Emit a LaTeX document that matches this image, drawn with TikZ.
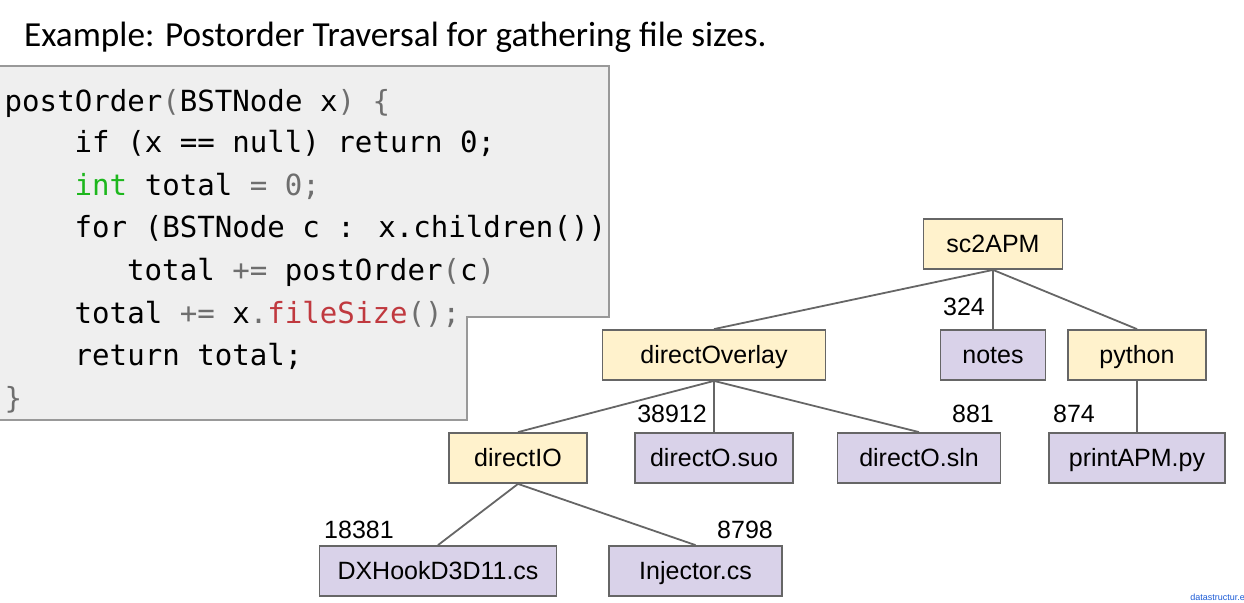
\documentclass[tikz,border=0pt]{standalone}
\usepackage{fontspec}
\setmainfont{Liberation Sans}
\newfontfamily\titlefont{Carlito}
\newfontfamily\codefont{DejaVu Sans Mono}
\definecolor{codefill}{HTML}{EFEFEF}
\definecolor{codeborder}{HTML}{999999}
\definecolor{codegray}{HTML}{6E6E6E}
\definecolor{codegreen}{HTML}{1DB71D}
\definecolor{codered}{HTML}{C0393F}
\definecolor{diryellow}{HTML}{FFF2CC}
\definecolor{filepurple}{HTML}{D9D2E9}
\definecolor{nodeborder}{HTML}{666666}
\definecolor{edgegray}{HTML}{666666}
\definecolor{linkblue}{HTML}{1A5AD6}
\newcommand{\cgr}[1]{\textcolor{codegray}{#1}}
\newcommand{\cgn}[1]{\textcolor{codegreen}{#1}}
\newcommand{\crd}[1]{\textcolor{codered}{#1}}
\tikzset{
  codebox/.style={fill=codefill, draw=codeborder, line width=1.2pt},
  codeline/.style={anchor=base west, inner sep=0pt, font=\codefont\fontsize{29.1}{34}\selectfont},
  tnode/.style={draw=nodeborder, line width=1.8pt, minimum height=50pt, inner sep=0pt, text height=19pt, text depth=2pt, font=\fontsize{25}{30}\selectfont},
  dirbox/.style={tnode, fill=diryellow},
  filebox/.style={tnode, fill=filepurple},
  sizelbl/.style={inner sep=0pt, font=\fontsize{25}{30}\selectfont},
  edge/.style={draw=edgegray, line width=1.8pt}
}
\begin{document}
\begin{tikzpicture}[x=1pt,y=-1pt]
\useasboundingbox (0,0) rectangle (1244,602);
% title
\node[anchor=base west, inner sep=0pt, font=\titlefont\fontsize{35.2}{42}\selectfont] (title) at (24,47) {Example: Postorder Traversal for gathering file sizes.};
% code box
\draw[codebox] (-3,66) -- (609,66) -- (609,317) -- (467,317) -- (467,420) -- (-3,420) -- cycle;
\node[codeline] (c1) at (4.5,111) {postOrder\cgr{(}BSTNode x\cgr{)} \cgr{\{}};
\node[codeline] (c2) at (74.5,152) {if (x == null) return 0;};
\node[codeline] (c3) at (74.5,195) {\cgn{int} total \cgr{=} \cgr{0;}};
\node[codeline] (c4) at (74.5,237) {for (BSTNode c : x.children())};
\node[codeline] (c5) at (127,280) {total \cgr{+=} postOrder\cgr{(}c\cgr{)}};
\node[codeline] (c6) at (74.5,323) {total \cgr{+=} x\cgr{.}\crd{fileSize}\cgr{();}};
\node[codeline] (c7) at (74.5,365) {return total;};
\node[codeline] (c8) at (4.5,408) {\cgr{\}}};
% tree nodes
\node[dirbox, minimum width=139pt] (sc2) at (993,244) {sc2APM};
\node[dirbox, minimum width=223pt] (dov) at (714,355) {directOverlay};
\node[filebox, minimum width=105pt] (notes) at (993,355) {notes};
\node[dirbox, minimum width=138pt] (py) at (1137,355) {python};
\node[dirbox, minimum width=138pt] (dio) at (518,458) {directIO};
\node[filebox, minimum width=158pt] (suo) at (714,458) {directO.suo};
\node[filebox, minimum width=163pt] (sln) at (919,458) {directO.sln};
\node[filebox, minimum width=176pt] (pam) at (1137,458) {printAPM.py};
\node[filebox, minimum width=237pt] (dx) at (438,571) {DXHookD3D11.cs};
\node[filebox, minimum width=173pt] (inj) at (695.5,571) {Injector.cs};
% edges
\draw[edge] (sc2.south) -- (dov.north);
\draw[edge] (sc2.south) -- (notes.north);
\draw[edge] (sc2.south) -- (py.north);
\draw[edge] (dov.south) -- (dio.north);
\draw[edge] (dov.south) -- (suo.north);
\draw[edge] (dov.south) -- (sln.north);
\draw[edge] (py.south) -- (pam.north);
\draw[edge] (dio.south) -- (dx.north);
\draw[edge] (dio.south) -- (inj.north);
% size labels
\node[sizelbl] (l324) at (964,307) {324};
\node[sizelbl] (l38912) at (672,414) {38912};
\node[sizelbl] (l881) at (973,414) {881};
\node[sizelbl] (l874) at (1074,414) {874};
\node[sizelbl] (l18381) at (359,530) {18381};
\node[sizelbl] (l8798) at (745,530) {8798};
% footer
\node[anchor=east, inner sep=0pt, text=linkblue, font=\fontsize{9}{10}\selectfont] (foot) at (1245,597) {datastructur.e};
\end{tikzpicture}
\end{document}
